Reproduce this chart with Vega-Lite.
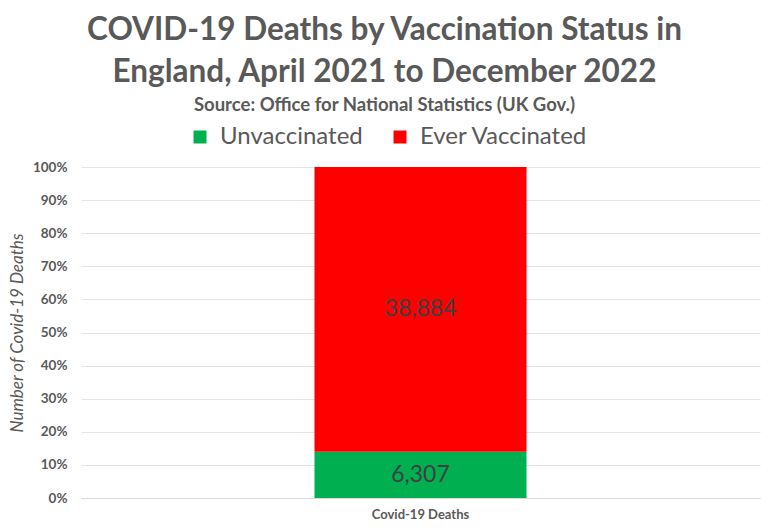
{
  "$schema": "https://vega.github.io/schema/vega-lite/v6.json",
  "autosize": "none",
  "width": 679,
  "height": 331,
  "padding": {"left": 81, "top": 167, "right": 8, "bottom": 33},
  "background": "white",
  "config": {
    "font": "Lato",
    "view": {"stroke": null},
    "axisY": {
      "titleFontSize": 17,
      "titleFontStyle": "italic",
      "titleFontWeight": "normal",
      "titleColor": "#595959",
      "titlePadding": 6,
      "labelFontSize": 13.5,
      "labelFontWeight": "bold",
      "labelColor": "#595959",
      "labelPadding": 14,
      "ticks": false,
      "domain": false,
      "gridColor": "#e3e3e3",
      "gridWidth": 1
    }
  },
  "title": {
    "text": ["COVID-19 Deaths by Vaccination Status in", "England, April 2021 to December 2022"],
    "subtitle": "Source: Office for National Statistics (UK Gov.)",
    "anchor": "middle",
    "frame": "group",
    "dx": -36,
    "fontSize": 31.5,
    "lineHeight": 42,
    "fontWeight": "bold",
    "color": "#595959",
    "subtitleFontSize": 18.5,
    "subtitleFontWeight": "bold",
    "subtitleColor": "#595959",
    "subtitlePadding": 7,
    "offset": 11
  },
  "data": {
    "values": [
      {"category": "Covid-19 Deaths", "status": "Unvaccinated", "deaths": 6307},
      {"category": "Covid-19 Deaths", "status": "Ever Vaccinated", "deaths": 38884}
    ]
  },
  "encoding": {
    "x": {
      "field": "category",
      "type": "nominal",
      "axis": {
        "title": null,
        "labelAngle": 0,
        "labelFontSize": 13,
        "labelFontWeight": "bold",
        "labelColor": "#595959",
        "labelPadding": 10,
        "ticks": false,
        "domainColor": "#d9d9d9",
        "domainWidth": 1
      }
    },
    "order": {"field": "status", "sort": "descending"}
  },
  "layer": [
    {
      "mark": {"type": "bar", "width": 212},
      "encoding": {
        "y": {
          "field": "deaths",
          "type": "quantitative",
          "stack": "normalize",
          "scale": {"domain": [0, 1]},
          "axis": {
            "title": "Number of Covid-19 Deaths",
            "format": "%",
            "values": [0, 0.1, 0.2, 0.3, 0.4, 0.5, 0.6, 0.7, 0.8, 0.9, 1]
          }
        },
        "color": {
          "field": "status",
          "type": "nominal",
          "scale": {"domain": ["Unvaccinated", "Ever Vaccinated"], "range": ["#00b050", "#ff0000"]},
          "legend": {
            "title": null,
            "orient": "none",
            "direction": "horizontal",
            "legendX": 107,
            "legendY": -42,
            "symbolType": "square",
            "symbolSize": 169,
            "symbolStrokeWidth": 0,
            "labelFontSize": 24,
            "labelColor": "#595959",
            "labelOffset": 8,
            "labelLimit": 400,
            "columnPadding": 25
          }
        }
      }
    },
    {
      "mark": {"type": "text", "fontSize": 23, "color": "#404040"},
      "encoding": {
        "y": {
          "field": "deaths",
          "type": "quantitative",
          "stack": "normalize",
          "bandPosition": 0.5,
          "scale": {"domain": [0, 1]},
          "axis": {
            "title": "Number of Covid-19 Deaths",
            "format": "%",
            "values": [0, 0.1, 0.2, 0.3, 0.4, 0.5, 0.6, 0.7, 0.8, 0.9, 1]
          }
        },
        "text": {"field": "deaths", "type": "quantitative", "format": ","}
      }
    }
  ]
}
